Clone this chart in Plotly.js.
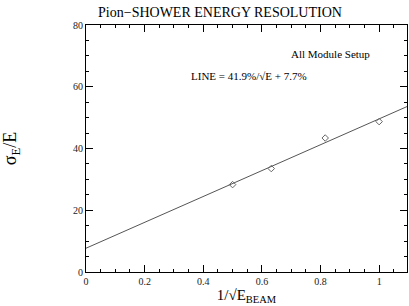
<!DOCTYPE html>
<html><head><meta charset="utf-8">
<script src="https://cdn.plot.ly/plotly-3.0.1.min.js"></script>
<style>html,body{margin:0;padding:0;background:#fff}#chart{width:409px;height:306px}</style>
</head><body><div id="chart"></div>
<script>
var invSqrtE = [0.5, 0.632, 0.816, 1.0];
var resolution = [28.3, 33.5, 43.4, 48.7];
var fitSlope = 41.9;
var fitIntercept = 7.7;
var xRange = [0, 1.095];
var xLine = [xRange[0], xRange[1]];
var yLine = xLine.map(function(x){return fitSlope*x + fitIntercept;});
var serif = "Liberation Serif, DejaVu Serif, serif";
var data = [
  {x: xLine, y: yLine, mode: 'lines', line: {color: '#555', width: 1}, hoverinfo: 'skip'},
  {x: invSqrtE, y: resolution, mode: 'markers',
   marker: {symbol: 'diamond-open', size: 5, color: '#666', line: {width: 1, color: '#666'}}}
];
var axisCommon = {
  showgrid: false, zeroline: false, showline: true, linecolor: '#000', linewidth: 1,
  mirror: 'ticks', ticks: 'inside', ticklen: 7, tickcolor: '#000', tickwidth: 1,
  tickfont: {family: serif, size: 10, color: '#222'}
};
var layout = {
  width: 409, height: 306,
  margin: {l: 86, r: 2, t: 25, b: 34},
  paper_bgcolor: '#fff', plot_bgcolor: '#fff',
  showlegend: false,
  title: {text: 'Pion\u2212SHOWER ENERGY RESOLUTION', x: 220/409, xanchor: 'center', y: 1-12/306, yanchor: 'middle',
          font: {family: serif, size: 14, color: '#000'}},
  xaxis: Object.assign({}, axisCommon, {
    range: xRange, dtick: 0.2, tick0: 0,
    minor: {dtick: 0.05, ticklen: 3, tickcolor: '#000', ticks: 'inside'},
    title: {text: '1/\u221AE<sub>BEAM</sub>', font: {family: serif, size: 15, color: '#000'}, standoff: 3}
  }),
  yaxis: Object.assign({}, axisCommon, {
    range: [0, 80], dtick: 20, tick0: 0,
    minor: {dtick: 5, ticklen: 3, tickcolor: '#000', ticks: 'inside'},
    title: {text: '\u03C3<sub>E</sub>/E', font: {family: serif, size: 18, color: '#000'}, standoff: 56}
  }),
  annotations: [
    {text: 'All Module Setup', xref: 'paper', yref: 'paper', x: (330-86)/321, y: (272-54)/247,
     xanchor: 'center', yanchor: 'middle', showarrow: false, font: {family: serif, size: 11, color: '#000'}},
    {text: 'LINE = 41.9%/\u221AE + 7.7%', xref: 'paper', yref: 'paper', x: (249-86)/321, y: (272-76)/247,
     xanchor: 'center', yanchor: 'middle', showarrow: false, font: {family: serif, size: 11, color: '#000'}}
  ]
};
Plotly.newPlot('chart', data, layout, {displayModeBar: false, staticPlot: true});
</script></body></html>
